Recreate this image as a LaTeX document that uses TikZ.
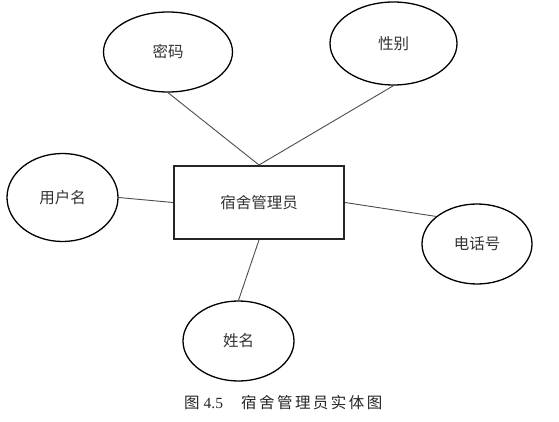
\documentclass[tikz,border=0pt]{standalone}
\usepackage{fontspec}
\usepackage{tikz}
\usetikzlibrary{shapes.geometric,backgrounds}
\newfontfamily\cjk{Noto Sans CJK SC}
\newfontfamily\capcjk[LetterSpace=16]{Noto Sans CJK SC}
\newfontfamily\capnum{Liberation Serif}
\begin{document}
\begin{tikzpicture}[x=1pt,y=-1pt,
  attr/.style={draw=black,line width=1.3pt,ellipse,inner sep=0pt,
    font=\cjk\fontsize{15.5}{18}\selectfont,text=black!80},
  entity/.style={draw=black!85,line width=2pt,rectangle,inner sep=0pt,
    minimum width=170pt,minimum height=73pt,
    font=\cjk\fontsize{15.5}{18}\selectfont,text=black!80},
  link/.style={draw=black!70,line width=0.9pt}]
\useasboundingbox (0,0) rectangle (559,422);
% entity
\node[entity] (guanliyuan) at (259,202.5) {宿舍管理员};
% attributes
\node[attr,minimum width=129pt,minimum height=80pt] (mima) at (168,52) {密码};
\node[attr,minimum width=127pt,minimum height=83pt] (xingbie) at (393.5,43.5) {性别};
\node[attr,minimum width=111pt,minimum height=88pt] (yonghuming) at (62.5,197.5) {用户名};
\node[attr,minimum width=110pt,minimum height=80pt] (dianhua) at (477,244) {电话号};
\node[attr,minimum width=111pt,minimum height=80pt] (xingming) at (238.5,341) {姓名};
% links
\draw[link] (mima.south) -- (guanliyuan.north);
\draw[link] (xingbie.south) -- (guanliyuan.north);
\draw[link] (yonghuming.east) -- (guanliyuan.west);
\draw[link] (guanliyuan.east) -- (dianhua.146);
\draw[link] (guanliyuan.south) -- (xingming.north);
% caption
\node[anchor=west,inner sep=0pt,text=black!85] (tuming) at (184,403)
  {{\cjk\fontsize{15.5}{18}\selectfont 图}\hspace{4pt}{\capnum\fontsize{15.5}{18}\selectfont 4.5}\hspace{18pt}{\capcjk\fontsize{15.5}{18}\selectfont 宿舍管理员实体图}};
\end{tikzpicture}
\end{document}
